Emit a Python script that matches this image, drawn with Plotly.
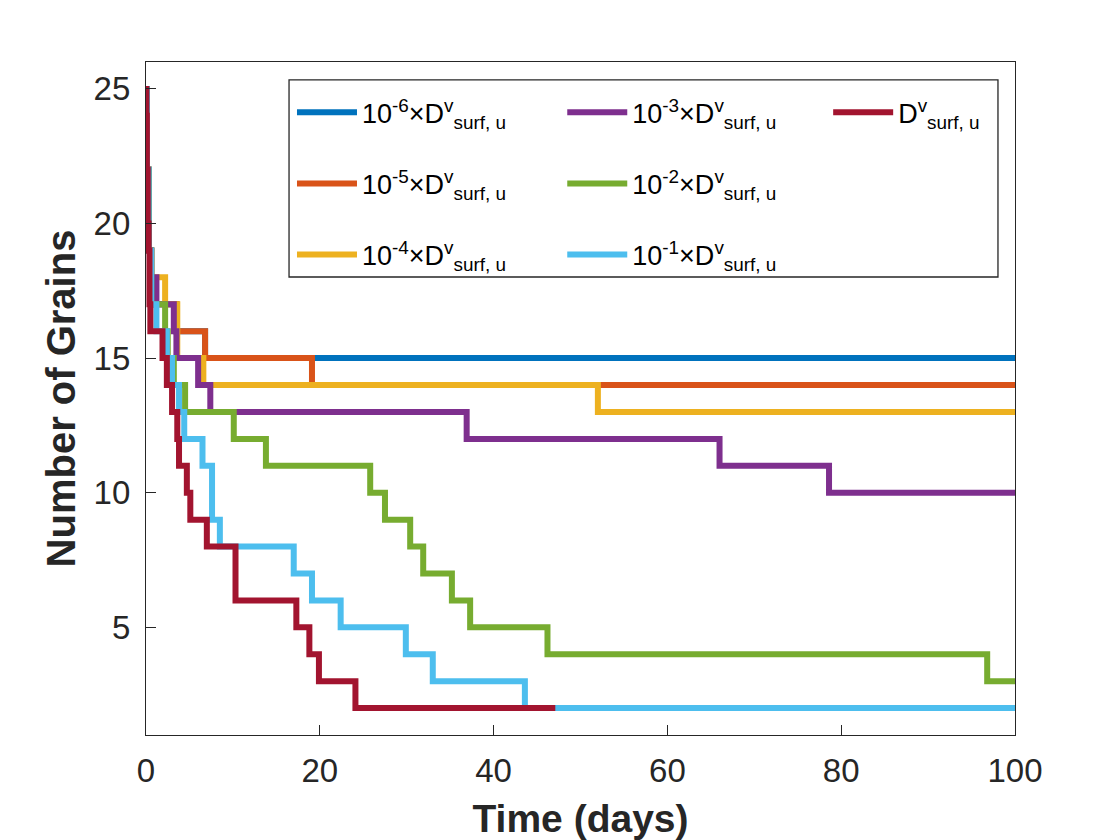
import plotly.graph_objects as go

# ---- data ----
# each series: times at which the count changes, and the count from that time on
t_1e6 = [0, 0.1, 0.3, 0.6, 3.5, 6.8, 100]
n_1e6 = [25, 22, 19, 17, 16, 15, 15]

t_1e5 = [0, 0.1, 0.3, 0.6, 3.5, 6.8, 19.1, 100]
n_1e5 = [25, 22, 19, 17, 16, 15, 14, 14]

t_1e4 = [0, 0.1, 0.3, 0.6, 2.2, 3.6, 6.6, 52.0, 100]
n_1e4 = [25, 22, 19, 18, 17, 15, 14, 13, 13]

t_1e3 = [0, 0.1, 0.3, 0.6, 1.2, 3.2, 3.5, 6.0, 7.4, 36.9, 66.0, 78.6, 100]
n_1e3 = [25, 22, 19, 18, 17, 16, 15, 14, 13, 12, 11, 10, 10]

t_1e2 = [0, 0.1, 0.3, 0.6, 2.2, 2.5, 3.2, 4.5, 10.1, 13.8, 25.8, 27.5, 30.4,
         31.9, 35.2, 37.3, 46.2, 96.8, 100]
n_1e2 = [25, 22, 19, 17, 16, 15, 14, 13, 12, 11, 10, 9, 8, 7, 6, 5, 4, 3, 3]

t_1e1 = [0, 0.1, 0.3, 0.6, 1.2, 2.4, 3.0, 3.8, 4.4, 6.5, 7.6, 8.5, 17.0, 19.1,
         22.4, 29.9, 33.0, 43.6, 100]
n_1e1 = [25, 22, 19, 17, 16, 15, 14, 13, 12, 11, 9, 8, 7, 6, 5, 4, 3, 2, 2]

t_1e0 = [0, 0.05, 0.1, 0.2, 0.3, 0.4, 0.5, 1.9, 2.4, 3.0, 3.6, 3.8, 4.7, 5.1,
         7.0, 10.3, 17.3, 18.8, 19.9, 24.1, 47.1]
n_1e0 = [25, 24, 22, 20, 19, 17, 16, 15, 14, 13, 12, 11, 10, 9, 8, 6, 5, 4, 3,
         2, 2]

labels = [
    "10<sup>-6</sup>×D<sup>v</sup><sub>surf, u</sub>",
    "10<sup>-5</sup>×D<sup>v</sup><sub>surf, u</sub>",
    "10<sup>-4</sup>×D<sup>v</sup><sub>surf, u</sub>",
    "10<sup>-3</sup>×D<sup>v</sup><sub>surf, u</sub>",
    "10<sup>-2</sup>×D<sup>v</sup><sub>surf, u</sub>",
    "10<sup>-1</sup>×D<sup>v</sup><sub>surf, u</sub>",
    "D<sup>v</sup><sub>surf, u</sub>",
]
colors = ["#0072BD", "#D95319", "#EDB120", "#7E2F8E", "#77AC30", "#4DBEEE",
          "#A2142F"]
legend_ids = ["legend", "legend", "legend", "legend2", "legend2", "legend2",
              "legend3"]

x_ticks = [0, 20, 40, 60, 80, 100]
y_ticks = [5, 10, 15, 20, 25]

series = [(t_1e6, n_1e6), (t_1e5, n_1e5), (t_1e4, n_1e4), (t_1e3, n_1e3),
          (t_1e2, n_1e2), (t_1e1, n_1e1), (t_1e0, n_1e0)]

FONT = "Liberation Sans, Arial, Helvetica, sans-serif"
INK = "#262626"

fig = go.Figure()
for i, (t, n) in enumerate(series):
    fig.add_trace(go.Scatter(
        x=t, y=n, mode="lines", line=dict(color=colors[i], width=6, shape="hv"),
        name=labels[i], legend=legend_ids[i], legendgroup="g%d" % i,
        hoverinfo="skip"))

axis_common = dict(
    showline=True, mirror=True, linecolor=INK, linewidth=1.3,
    ticks="inside", ticklen=10, tickwidth=1.3, tickcolor=INK,
    showgrid=False, zeroline=False,
    tickfont=dict(family=FONT, size=33, color=INK),
)

fig.update_xaxes(range=[0, 100], tickvals=x_ticks, ticklabelstandoff=6,
                 title=dict(text="<b>Time (days)</b>", standoff=18,
                            font=dict(family=FONT, size=39, color=INK)),
                 **axis_common)
fig.update_yaxes(range=[1, 26], tickvals=y_ticks, ticklabelstandoff=8,
                 title=dict(text="<b>Number of Grains</b>", standoff=5,
                            font=dict(family=FONT, size=40, color=INK)),
                 **axis_common)

leg_common = dict(
    font=dict(family=FONT, size=27, color="#000000"),
    bgcolor="rgba(0,0,0,0)", borderwidth=0, orientation="v",
    xanchor="left", yanchor="top", y=0.961, itemwidth=60,
    tracegroupgap=33, itemclick=False, itemdoubleclick=False,
)

# the page body adds an 8 px offset, so the figure is 8 px smaller each way
fig.update_layout(
    width=1112, height=832,
    margin=dict(l=138, r=105, t=54, b=105, autoexpand=False),
    paper_bgcolor="white", plot_bgcolor="white",
    font=dict(family=FONT, color=INK),
    showlegend=True,
    legend=dict(x=0.168, **leg_common),
    legend2=dict(x=0.479, **leg_common),
    legend3=dict(x=0.785, **leg_common),
    shapes=[dict(type="rect", xref="paper", yref="paper",
                 x0=0.1646, x1=0.9804, y0=0.6805, y1=0.9733,
                 line=dict(color=INK, width=1.3), fillcolor="white",
                 layer="below")],
)

fig.write_html("out.html")
